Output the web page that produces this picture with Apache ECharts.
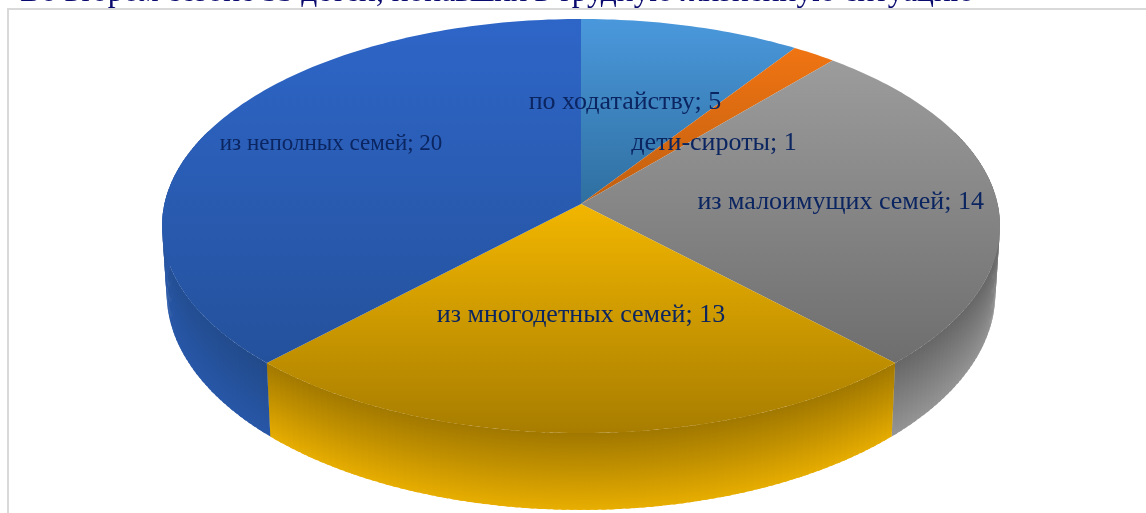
<!DOCTYPE html>
<html><head><meta charset="utf-8">
<style>html,body{margin:0;padding:0;background:#fff;overflow:hidden}#c{width:1146px;height:513px}</style>
<script src="https://cdn.jsdelivr.net/npm/echarts@6/dist/echarts.min.js"></script>
</head><body><div id="c"></div>
<script>
// --- data ---
var categories = ['по ходатайству', 'дети-сироты', 'из малоимущих семей', 'из многодетных семей', 'из неполных семей'];
var values = [5, 1, 14, 13, 20];
var titleText = 'Во втором сезоне 53 детей, попавших в трудную жизненную ситуацию';

// --- styles ---
var topColors = [['#4a98dc', '#2f6fa0'], ['#f07412', '#c05f10'], ['#9c9c9c', '#6e6e6e'], ['#f2b600', '#a87d00'], ['#2e66c8', '#24519c']];
var sideColors = [['#2f6fa0', '#4a9be0'], ['#a85410', '#ec7010'], ['#666666', '#969696'], ['#a07700', '#e8ae00'], ['#1f4680', '#2857a8']];
var sideEdgeFade = [0, 0, 0, 0, 0.6];
var labelColor = '#0b2561';
var font = '"Liberation Serif", serif';
var labelFontSize = [26, 26, 26, 26, 23];

// --- layout: perspective projection of the pie disc ---
var topPlane = {cx: 581, cy: 204, a: 416.6, b: 204.7, k: 0.1063};
var botPlane = {cx: 581, cy: 270, a: 412, b: 214.4, k: 0.1063};
var labelRadius = [0.62, 0.74, 0.62, 0.49, 0.64];
var labelNudge = [[-27, 12], [-43, 52], [2, 2], [0, 5], [-9, -12]];
var arcStepDeg = 1;

var total = values.reduce(function (s, v) { return s + v; }, 0);
function sliceRange(i) {
  var before = 0;
  for (var j = 0; j < i; j++) before += values[j];
  return [before / total * 2 * Math.PI, (before + values[i]) / total * 2 * Math.PI];
}
function proj(p, ang, r) {
  var u = r * Math.sin(ang), v = -r * Math.cos(ang), d = 1 - p.k * v;
  return [p.cx + p.a * u / d, p.cy + p.b * v / d];
}
function grad(c) {
  return new echarts.graphic.LinearGradient(0, 0, 0, 1, [{offset: 0, color: c[0]}, {offset: 1, color: c[1]}]);
}
function renderSide(params) {
  var i = params.dataIndex, rg = sliceRange(i), children = [];
  var step = arcStepDeg * Math.PI / 180;
  for (var t = rg[0]; t < rg[1]; t += step) {
    var t2 = Math.min(t + step * 1.6, rg[1]);
    if (-Math.cos(t) < -0.35 && -Math.cos(t2) < -0.35) continue;
    var edge = Math.pow(Math.abs(Math.sin(t)), 3) * sideEdgeFade[i];
    var start = echarts.color.lerp(edge, [sideColors[i][0], sideColors[i][1]]);
    children.push({
      type: 'polygon',
      shape: {points: [proj(topPlane, t, 1), proj(topPlane, t2, 1), proj(botPlane, t2, 1), proj(botPlane, t, 1)]},
      style: {fill: grad([start, sideColors[i][1]])}
    });
  }
  return {type: 'group', children: children};
}
function renderTop(params) {
  var i = params.dataIndex, rg = sliceRange(i), pts = [[topPlane.cx, topPlane.cy]];
  var n = Math.max(2, Math.ceil((rg[1] - rg[0]) * 180 / Math.PI));
  for (var s = 0; s <= n; s++) pts.push(proj(topPlane, rg[0] + (rg[1] - rg[0]) * s / n, 1));
  return {type: 'polygon', shape: {points: pts}, style: {fill: grad(topColors[i])}};
}
function renderLabel(params) {
  var i = params.dataIndex, rg = sliceRange(i);
  var p = proj(topPlane, (rg[0] + rg[1]) / 2, labelRadius[i]);
  return {type: 'text', style: {
    x: p[0] + labelNudge[i][0], y: p[1] + labelNudge[i][1],
    text: categories[i] + '; ' + values[i],
    fill: labelColor, font: labelFontSize[i] + 'px ' + font, align: 'center', verticalAlign: 'middle'
  }};
}
var chart = echarts.init(document.getElementById('c'), null, {renderer: 'canvas'});
chart.setOption({
  animation: false,
  backgroundColor: '#ffffff',
  graphic: [
    {type: 'rect', silent: true, z: 0, shape: {x: 8, y: 9, width: 1160, height: 530}, style: {fill: 'none', stroke: '#d9d9d9', lineWidth: 2}},
    {type: 'text', silent: true, z: 10, style: {x: 20, y: 9, text: titleText, fill: '#0a0a6e', font: '31.5px ' + font, verticalAlign: 'bottom'}}
  ],
  series: [
    {type: 'custom', coordinateSystem: 'none', renderItem: renderSide, data: values, z: 1},
    {type: 'custom', coordinateSystem: 'none', renderItem: renderTop, data: values, z: 2},
    {type: 'custom', coordinateSystem: 'none', renderItem: renderLabel, data: values, z: 3}
  ]
});
</script></body></html>
